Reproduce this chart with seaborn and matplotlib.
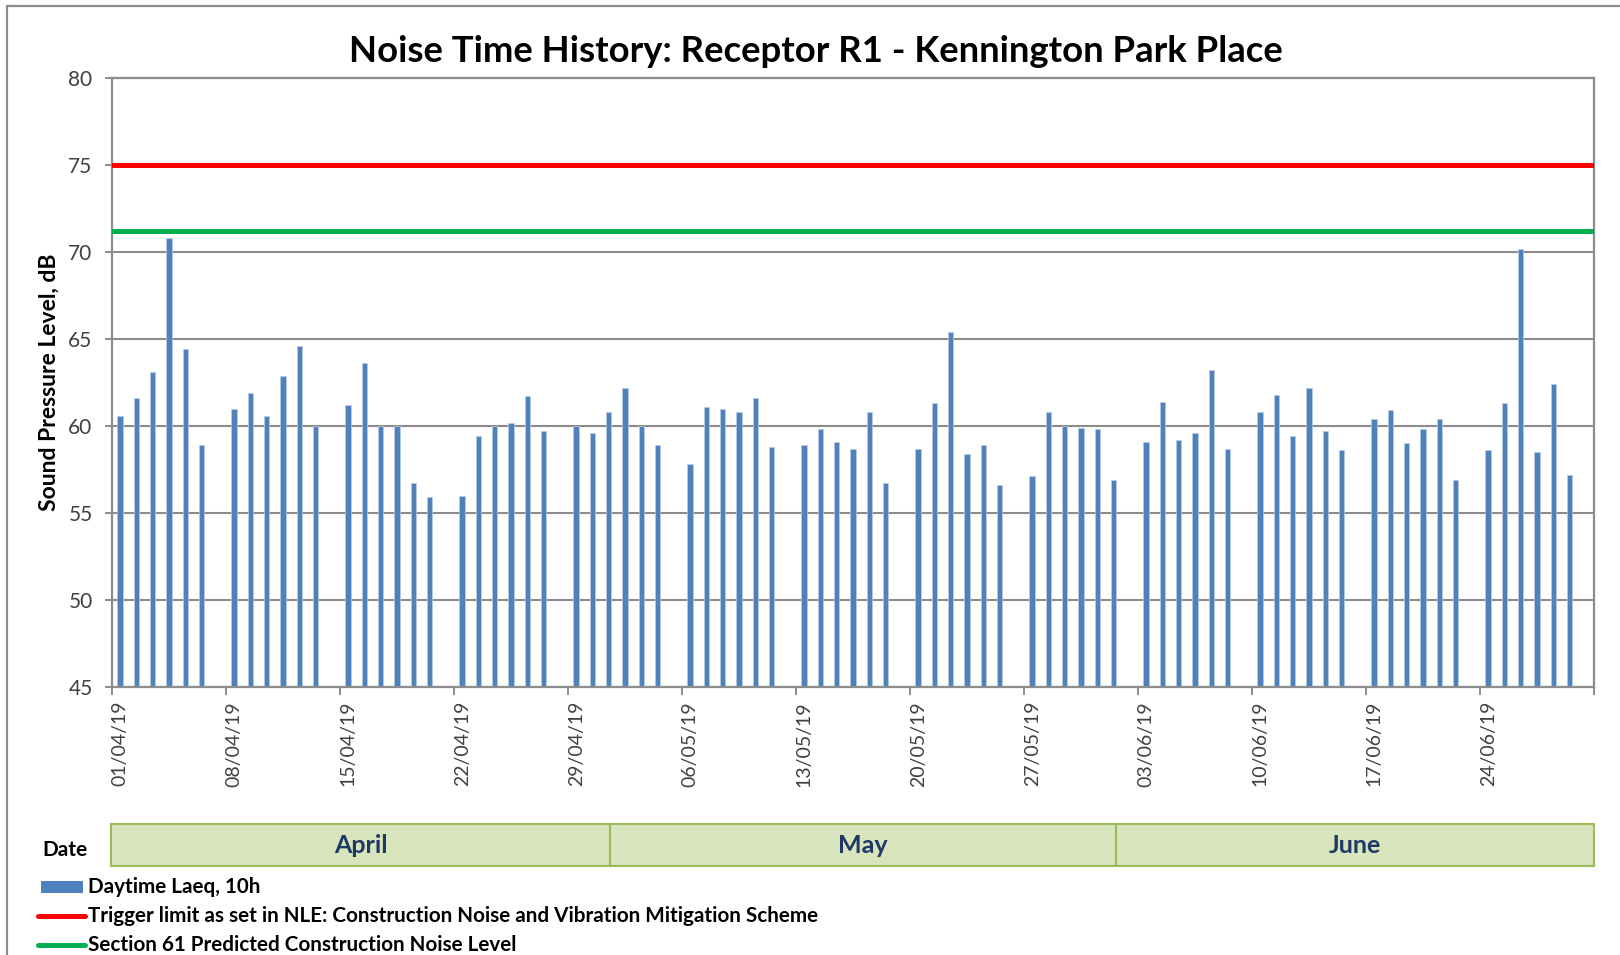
import numpy as np
import pandas as pd
import matplotlib
matplotlib.use("Agg")
import matplotlib.pyplot as plt
from matplotlib.patches import Rectangle
from matplotlib.lines import Line2D
import seaborn as sns

# ---------------- data ----------------
dates = pd.date_range("2019-04-01", "2019-06-30", freq="D")
date_labels = [d.strftime("%d/%m/%y") for d in dates]

# Daytime LAeq,10h (dB) - one value per day, Sundays have no measurement
week01 = [60.6, 61.6, 63.1, 70.8, 64.4, 58.9, None]
week02 = [61.0, 61.9, 60.6, 62.9, 64.6, 60.0, None]
week03 = [61.2, 63.6, 60.0, 60.0, 56.7, 55.9, None]
week04 = [56.0, 59.4, 60.0, 60.2, 61.7, 59.7, None]
week05 = [60.0, 59.6, 60.8, 62.2, 60.0, 58.9, None]
week06 = [57.8, 61.1, 61.0, 60.8, 61.6, 58.8, None]
week07 = [58.9, 59.8, 59.1, 58.7, 60.8, 56.7, None]
week08 = [58.7, 61.3, 65.4, 58.4, 58.9, 56.6, None]
week09 = [57.1, 60.8, 60.0, 59.9, 59.8, 56.9, None]
week10 = [59.1, 61.4, 59.2, 59.6, 63.2, 58.7, None]
week11 = [60.8, 61.8, 59.4, 62.2, 59.7, 58.6, None]
week12 = [60.4, 60.9, 59.0, 59.8, 60.4, 56.9, None]
week13 = [58.6, 61.3, 70.2, 58.5, 62.4, 57.2, None]
daytime_laeq = (week01 + week02 + week03 + week04 + week05 + week06 + week07
                + week08 + week09 + week10 + week11 + week12 + week13)

trigger_limit = 75.0
section61_level = 71.2

month_names = ["April", "May", "June"]

series_names = ["Daytime Laeq, 10h",
                "Trigger limit as set in NLE: Construction Noise and Vibration Mitigation Scheme",
                "Section 61 Predicted Construction Noise Level"]

title = "Noise Time History: Receptor R1 - Kennington Park Place"
y_label = "Sound Pressure Level, dB"

df = pd.DataFrame({"date": date_labels,
                   "level": [np.nan if v is None else v for v in daytime_laeq]})

# ---------------- style ----------------
W, H = 1620, 955
sns.set_theme(style="white")
plt.rcParams["font.family"] = ["Lato", "DejaVu Sans"]

BAR = "#4F81BD"
RED = "#FF0000"
GREEN = "#00B050"
GRID = "#8C8C8C"
TXT = "#404040"

def fx(px):
    return px / W

def fy(py):
    return 1 - py / H

fig = plt.figure(figsize=(W / 100, H / 100), dpi=100)
fig.patch.set_facecolor("white")

# outer chart border (extends beyond right / bottom edge)
fig.add_artist(Rectangle((fx(7), -0.2), 1.2, fy(6) + 0.2, transform=fig.transFigure,
                         fill=False, edgecolor=GRID, linewidth=1.6))

ax = fig.add_axes([fx(112), fy(687), fx(1594) - fx(112), fy(78) - fy(687)])

sns.barplot(data=df, x="date", y="level", order=date_labels, color=BAR,
            saturation=1, width=0.33, errorbar=None, edgecolor="#B9CDE5",
            linewidth=0.5, ax=ax, zorder=2)

ax.axhline(trigger_limit, color=RED, linewidth=3.6, zorder=3)
ax.axhline(section61_level, color=GREEN, linewidth=3.6, zorder=3)

ax.set_ylim(45, 80)
ax.set_xlim(-0.5, len(date_labels) - 0.5)
ax.set_yticks(np.arange(45, 81, 5))
ax.yaxis.grid(True, color=GRID, linewidth=1.5)
ax.set_axisbelow(True)
for s in ax.spines.values():
    s.set_color(GRID)
    s.set_linewidth(1.6)
    s.set_visible(True)

ax.tick_params(axis="y", which="major", direction="out", length=5, width=1.4,
               color=GRID, labelsize=15, labelcolor=TXT, pad=9, left=True)

# x: week ticks at day boundaries, labels at each Monday
week_pos = np.arange(0, len(date_labels), 7)
ax.set_xticks(np.append(week_pos, len(date_labels)) - 0.5)
ax.set_xticklabels([])
ax.tick_params(axis="x", which="major", direction="out", length=6, width=1.4,
               color=GRID, bottom=True)
ax.set_xticks(week_pos, minor=True)
ax.set_xticklabels([date_labels[i] for i in week_pos], minor=True, rotation=90,
                   fontsize=14, color=TXT)
ax.tick_params(axis="x", which="minor", length=0, pad=10)
ax.set_xlabel("")
ax.set_ylabel("")

# title and y label
fig.text(fx(816), fy(51), title, ha="center", va="center", fontsize=26.3,
         fontweight="bold", color="black")
fig.text(fx(49), fy(382), y_label, ha="center", va="center", rotation=90,
         fontsize=16.5, fontweight="bold", color="black")

# month band
axm = fig.add_axes([fx(111), fy(866), fx(1594) - fx(111), fy(824) - fy(866)])
axm.set_xlim(0, 1)
axm.set_ylim(0, 1)
axm.axis("off")
month_edges = [0.0, 0.3365, 0.6777, 1.0]
for name, x0, x1 in zip(month_names, month_edges[:-1], month_edges[1:]):
    axm.add_patch(Rectangle((x0, 0), x1 - x0, 1, facecolor="#D8E4BC",
                            edgecolor="#9BBB59", linewidth=1.5, clip_on=False))
    axm.text((x0 + x1) / 2, 0.5, name, ha="center", va="center", fontsize=18,
             fontweight="bold", color="#1F3864")
fig.text(fx(42), fy(850), "Date", ha="left", va="center", fontsize=15,
         fontweight="bold", color="black")

# legend (drawn below the month band)
leg_y = [887, 916, 945]
fig.add_artist(Rectangle((fx(41), fy(893)), fx(83) - fx(41), fy(881) - fy(893),
                         transform=fig.transFigure, facecolor=BAR, edgecolor="none"))
fig.add_artist(Line2D([fx(38), fx(85)], [fy(leg_y[1])] * 2, transform=fig.transFigure,
                      color=RED, linewidth=3.6, solid_capstyle="round"))
fig.add_artist(Line2D([fx(38), fx(85)], [fy(leg_y[2])] * 2, transform=fig.transFigure,
                      color=GREEN, linewidth=3.6, solid_capstyle="round"))
for name, yy in zip(series_names, leg_y):
    fig.text(fx(88), fy(yy), name, ha="left", va="center", fontsize=14.9,
             fontweight="bold", color="black")

fig.savefig("out.png", dpi=100, facecolor="white")
